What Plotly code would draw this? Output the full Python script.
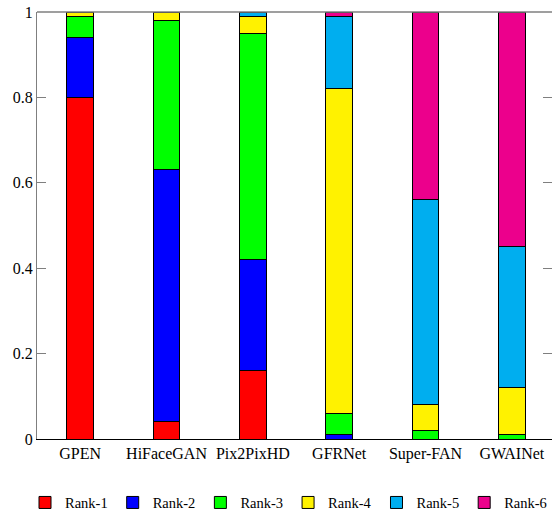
import plotly.graph_objects as go

methods = ["GPEN", "HiFaceGAN", "Pix2PixHD", "GFRNet", "Super-FAN", "GWAINet"]
rank_names = ["Rank-1", "Rank-2", "Rank-3", "Rank-4", "Rank-5", "Rank-6"]
rank1 = [0.80, 0.04, 0.16, 0.00, 0.00, 0.00]
rank2 = [0.14, 0.59, 0.26, 0.01, 0.00, 0.00]
rank3 = [0.05, 0.35, 0.53, 0.05, 0.02, 0.01]
rank4 = [0.01, 0.02, 0.04, 0.76, 0.06, 0.11]
rank5 = [0.00, 0.00, 0.01, 0.17, 0.48, 0.33]
rank6 = [0.00, 0.00, 0.00, 0.01, 0.44, 0.55]
y_ticks = [0, 0.2, 0.4, 0.6, 0.8, 1]
y_tick_labels = ["0", "0.2", "0.4", "0.6", "0.8", "1"]

colors = ["#FF0000", "#0000FF", "#00FF00", "#FFF200", "#00AEEF", "#EC008C"]
series = [rank1, rank2, rank3, rank4, rank5, rank6]

FONT = "Liberation Serif, Times New Roman, serif"

fig = go.Figure()
for name, vals, col in zip(rank_names, series, colors):
    fig.add_trace(go.Bar(
        x=methods, y=vals, name=name,
        marker=dict(color=col, line=dict(color="black", width=1)),
        width=0.31,
    ))
# empty helper trace so the right-hand tick axis is rendered
fig.add_trace(go.Scatter(x=[methods[0]], y=[None], yaxis="y2", showlegend=False,
                         hoverinfo="skip", mode="markers"))

fig.update_layout(
    width=552, height=519,
    barmode="stack",
    plot_bgcolor="white", paper_bgcolor="white",
    margin=dict(l=37, r=0, t=12, b=77),
    font=dict(family=FONT, size=16, color="black"),
    showlegend=True,
    legend=dict(
        orientation="h", x=-0.005, xanchor="left", y=-0.1488, yanchor="middle",
        font=dict(family=FONT, size=14.5, color="black"),
        itemwidth=30, tracegroupgap=0, traceorder="normal",
        bgcolor="rgba(0,0,0,0)",
    ),
    xaxis=dict(
        range=[-0.5, 5.465], showline=True, linecolor="black", linewidth=1.3,
        ticks="", showgrid=False, zeroline=False,
        tickfont=dict(family=FONT, size=16, color="black"),
    ),
    yaxis=dict(
        range=[0, 1], tickvals=y_ticks, ticktext=y_tick_labels,
        showline=True, linecolor="#7f7f7f", linewidth=1.3, mirror=False,
        ticks="inside", ticklen=9, tickcolor="#7f7f7f", tickwidth=1,
        showgrid=False, zeroline=False,
        tickfont=dict(family=FONT, size=16, color="black"),
    ),
    yaxis2=dict(
        overlaying="y", side="right", range=[0, 1], tickvals=y_ticks,
        showticklabels=False, showline=False, showgrid=False, zeroline=False,
        ticks="inside", ticklen=9, tickcolor="#7f7f7f", tickwidth=1,
    ),
)
# top border line
fig.add_shape(type="line", xref="paper", yref="paper", x0=0, x1=1, y0=1, y1=1,
              line=dict(color="#7f7f7f", width=1.3), layer="above")

fig.write_html("out.html", config={"displayModeBar": False},
               post_script="document.body.style.margin='0px';document.body.style.overflow='hidden';")
